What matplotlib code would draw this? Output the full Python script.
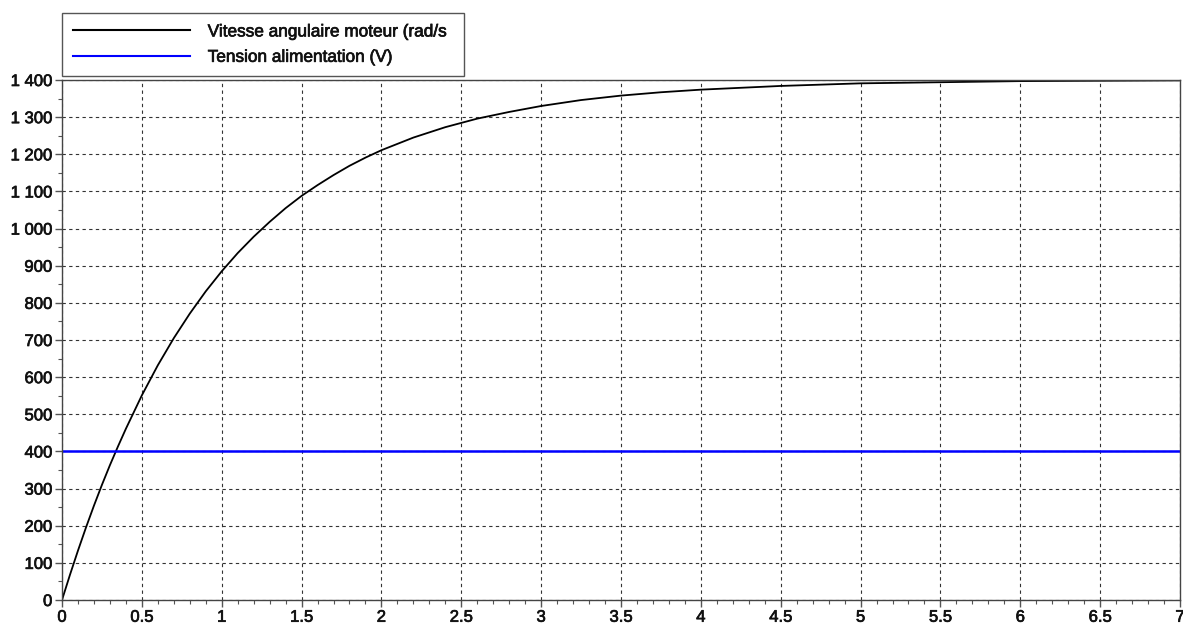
import matplotlib
matplotlib.use("Agg")
import matplotlib.pyplot as plt
import matplotlib.patheffects as pe
from matplotlib.ticker import MultipleLocator, FuncFormatter

# Data
t = [0, 0.05, 0.1, 0.15, 0.2, 0.25, 0.3, 0.35, 0.4, 0.45, 0.5, 0.6, 0.7, 0.8, 0.9,
     1.0, 1.1, 1.2, 1.3, 1.4, 1.5, 1.6, 1.7, 1.8, 1.9, 2.0, 2.2, 2.4, 2.6, 2.8, 3.0,
     3.25, 3.5, 3.75, 4.0, 4.5, 5.0, 5.5, 6.0, 6.5, 7.0]
vitesse = [0, 68, 133, 195, 254, 310, 363, 413, 461, 506, 551, 632, 705, 771, 831,
           885, 934, 978, 1018, 1055, 1088, 1117, 1144, 1169, 1191, 1211, 1245, 1273,
           1296, 1314, 1330, 1346, 1358, 1367, 1374, 1384, 1391, 1394, 1397, 1398, 1399]
t_tension = [0, 7]
tension = [400, 400]

label_vitesse = "Vitesse angulaire moteur (rad/s"
label_tension = "Tension alimentation (V)"

plt.rcParams['font.family'] = ['Liberation Sans', 'DejaVu Sans']

W, H = 1183, 627
fig = plt.figure(figsize=(W / 100, H / 100), dpi=100)
ax = fig.add_axes([62 / W, (H - 600) / H, (1180 - 62) / W, 520 / H])

l1, = ax.plot(t, vitesse, color='black', lw=1.3)
l2, = ax.plot(t_tension, tension, color='#0000ff', lw=1.8)

ax.set_xlim(0, 7)
ax.set_ylim(0, 1400)
ax.xaxis.set_major_locator(MultipleLocator(0.5))
ax.xaxis.set_minor_locator(MultipleLocator(0.1))
ax.yaxis.set_major_locator(MultipleLocator(100))
ax.yaxis.set_minor_locator(MultipleLocator(50))

def xfmt(v, pos):
    return f"{v:g}"

def yfmt(v, pos):
    return f"{int(round(v)):,}".replace(",", " ")

ax.xaxis.set_major_formatter(FuncFormatter(xfmt))
ax.yaxis.set_major_formatter(FuncFormatter(yfmt))

ax.grid(True, which='major', color='#333333', linestyle=(0, (3, 3)), lw=0.8)
ax.tick_params(which='major', direction='out', length=5, width=1, color='#555555',
               labelsize=12, pad=2, labelcolor='#111111')
ax.tick_params(which='minor', direction='out', length=3, width=0.8, color='#555555')
for sp in ax.spines.values():
    sp.set_color('#444444')
    sp.set_linewidth(1.0)
ax.set_axisbelow(True)

thick = [pe.withStroke(linewidth=0.5, foreground='#111111')]
for lab in ax.get_xticklabels() + ax.get_yticklabels():
    lab.set_path_effects(thick)

leg = fig.legend([l1, l2], [label_vitesse, label_tension],
                 loc='upper left',
                 bbox_to_anchor=(62 / W, 1 - 75 / H, (464 - 62) / W, 62 / H),
                 mode='expand', fancybox=False, framealpha=1,
                 edgecolor='#555555', fontsize=12.4, handlelength=6.8,
                 handletextpad=1.0, borderaxespad=0, borderpad=0.66,
                 labelspacing=0.6)
leg.get_frame().set_linewidth(1.0)
for txt in leg.get_texts():
    txt.set_color('#111111')
    txt.set_path_effects(thick)
for ln in leg.get_lines():
    ln.set_linewidth(1.5)

fig.savefig("out.png", dpi=100)
